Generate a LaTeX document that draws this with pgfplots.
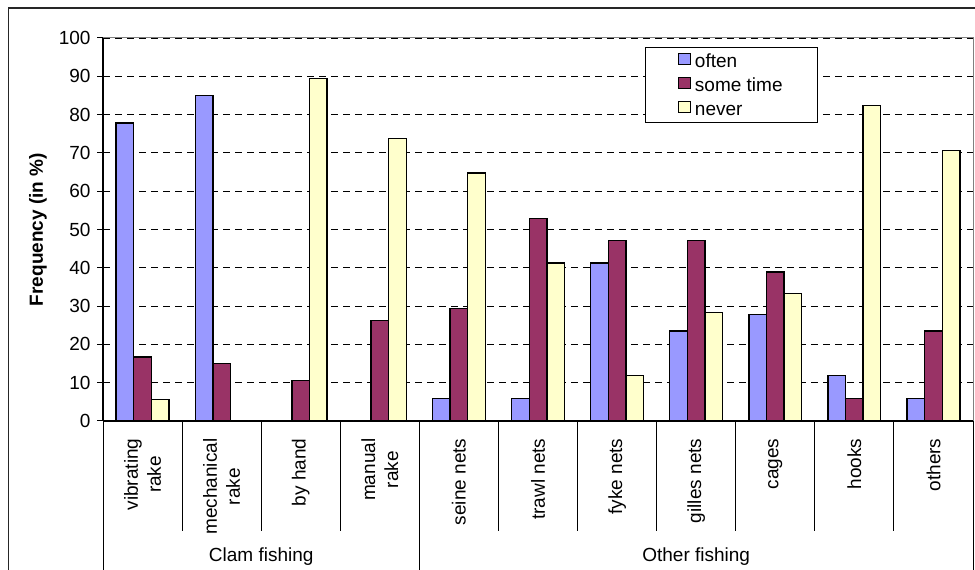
\documentclass[border=0pt]{standalone}
\usepackage{fontspec}
\setmainfont{Liberation Sans}
\usepackage{pgfplots}
\pgfplotsset{compat=1.18}
\definecolor{often}{HTML}{9999FF}
\definecolor{sometime}{HTML}{993366}
\definecolor{never}{HTML}{FFFFCC}
\newcommand{\chartfont}{\fontsize{19bp}{23bp}\selectfont}

\begin{document}
\chartfont
\begin{tikzpicture}[x=1bp,y=1bp]
\path[use as bounding box] (0,0) rectangle (975,570);
\draw[line width=1.6bp, black!85] (8.3,-10) -- (8.3,561.7) -- (990,561.7);
\begin{axis}[
  at={(103bp,149bp)}, anchor=south west,
  width=870bp, height=383bp, scale only axis,
  xmin=-0.5, xmax=10.5, ymin=0, ymax=100,
  clip=false,
  ybar=0pt, bar width=17.6bp,
  axis x line=bottom, axis y line=left,
  axis line style={-, line width=1.3bp, black},
  ytick={0,10,...,100},
  ytick style={line width=1bp, black},
  tick align=outside, major tick length=6bp,
  xtick={0,...,10},
  xtick style={draw=none},
  xticklabels={{vibrating\\rake},{mechanical\\rake},{by hand},{manual\\rake},{seine nets},{trawl nets},{fyke nets},{gilles nets},{cages},{hooks},{others}},
  x tick label style={yshift=-5bp, rotate=90, anchor=east, align=center, font=\chartfont},
  y tick label style={font=\chartfont},
  /pgf/number format/assume math mode=true,
  ymajorgrids,
  grid style={black, line width=0.9bp, dash pattern=on 7bp off 5bp},
  ylabel={\textbf{Frequency (in \%)}},
  every axis y label/.style={at={(axis description cs:-0.0747,0.5)}, rotate=90, anchor=center, font=\chartfont},
  every axis plot/.append style={draw=black, line width=1.4bp},
  legend image code/.code={\draw[#1, line width=1bp] (0bp,-4bp) rectangle (11.5bp,7.5bp);},
  legend cell align=left,
  legend style={at={(axis description cs:0.623,0.9765)}, anchor=north west,
    draw=black, line width=0.9bp, fill=white, font=\chartfont,
    inner xsep=33bp, inner ysep=4bp, row sep=5bp, column sep=2bp,
    nodes={inner sep=2bp, text height=14bp, text depth=1bp}},
]
\addplot[fill=often] coordinates {(0,77.8) (1,85) (2,0) (3,0) (4,5.9) (5,5.9) (6,41.2) (7,23.5) (8,27.8) (9,11.8) (10,5.9)};
\addplot[fill=sometime] coordinates {(0,16.7) (1,15) (2,10.5) (3,26.3) (4,29.4) (5,52.9) (6,47.1) (7,47.1) (8,38.9) (9,5.9) (10,23.5)};
\addplot[fill=never] coordinates {(0,5.6) (1,0) (2,89.5) (3,73.7) (4,64.7) (5,41.2) (6,11.8) (7,28.4) (8,33.3) (9,82.4) (10,70.6)};
\legend{often, some time, never}
\draw[gray, line width=1bp] (rel axis cs:0,1) -- (rel axis cs:1,1) -- (rel axis cs:1,0);
\pgfplotsinvokeforeach{0.5,1.5,2.5,4.5,5.5,6.5,7.5,8.5,9.5}{
  \draw[black, line width=1bp] (axis cs:#1,0) -- ++(0bp,-110bp);}
\pgfplotsinvokeforeach{-0.5,3.5,10.5}{
  \draw[black, line width=1bp] (axis cs:#1,0) -- ++(0bp,-160bp);}
\node[font=\chartfont] at (axis cs:1.5,0) [yshift=-136bp] {Clam fishing};
\node[font=\chartfont] at (axis cs:7,0) [yshift=-136bp] {Other fishing};
\end{axis}
\end{tikzpicture}
\end{document}
